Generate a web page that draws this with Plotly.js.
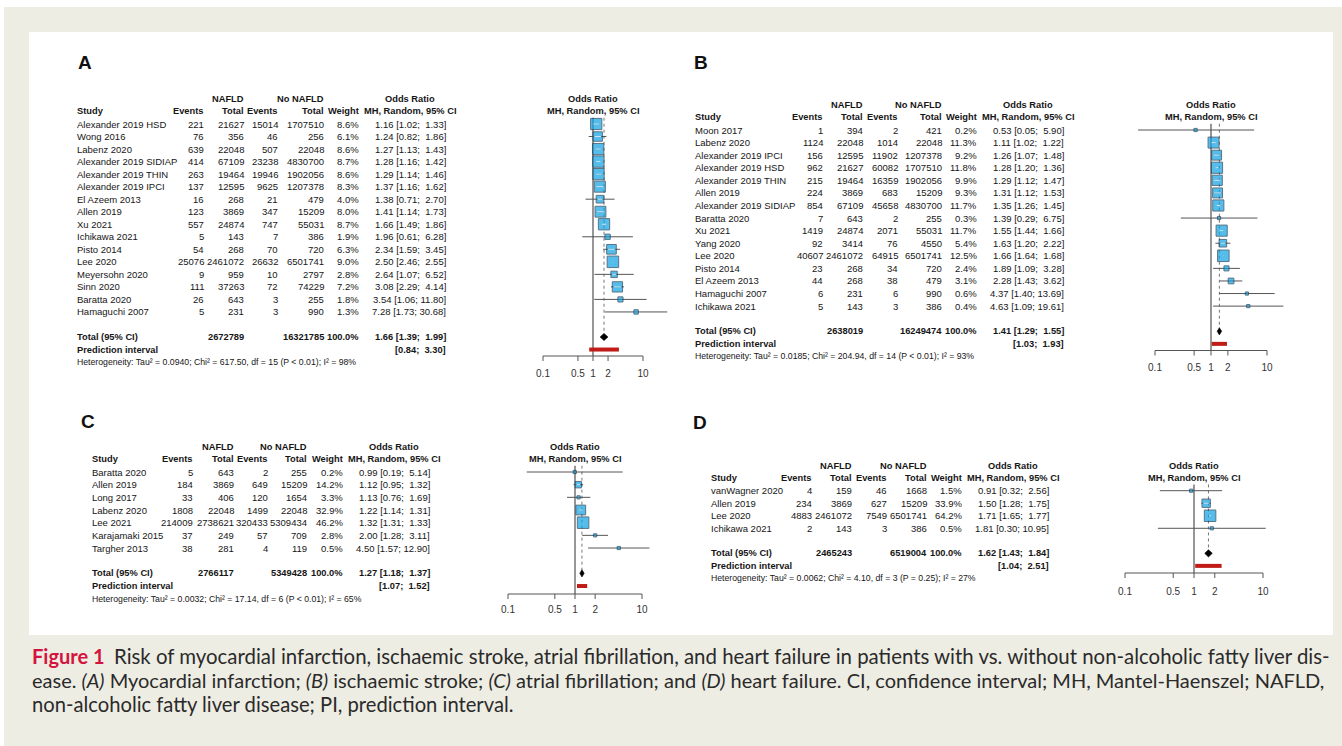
<!DOCTYPE html>
<html><head><meta charset="utf-8">
<script src="https://cdn.plot.ly/plotly-3.0.1.min.js"></script>
<style>html,body{margin:0;padding:0;background:#eeede3;}#chart{width:1342px;height:746px;}</style>
</head><body><div id="chart"></div>
<script>
// ---------------- DATA ----------------
const tickVals = [0.1, 0.5, 1, 2, 10];
const tickText = ['0.1', '0.5', '1', '2', '10'];
const colHeads = ['Events', 'Total', 'Events', 'Total', 'Weight'];
const groupHeads = ['NAFLD', 'No NAFLD'];
const orHead1 = 'Odds Ratio', orHead2 = 'MH, Random, 95% CI';

// Panel A – myocardial infarction
const studiesA = ['Alexander 2019 HSD','Wong 2016','Labenz 2020','Alexander 2019 SIDIAP','Alexander 2019 THIN','Alexander 2019 IPCI','El Azeem 2013','Allen 2019','Xu 2021','Ichikawa 2021','Pisto 2014','Lee 2020','Meyersohn 2020','Sinn 2020','Baratta 2020','Hamaguchi 2007'];
const evA   = [221,76,639,414,263,137,16,123,557,5,54,25076,9,111,26,5];
const totA  = [21627,356,22048,67109,19464,12595,268,3869,24874,143,268,2461072,959,37263,643,231];
const evCA  = [15014,46,507,23238,19946,9625,21,347,747,7,70,26632,10,72,3,3];
const totCA = [1707510,256,22048,4830700,1902056,1207378,479,15209,55031,386,720,6501741,2797,74229,255,990];
const wA    = [8.6,6.1,8.6,8.7,8.6,8.3,4.0,8.0,8.7,1.9,6.3,9.0,2.8,7.2,1.8,1.3];
const orA   = [1.16,1.24,1.27,1.28,1.29,1.37,1.38,1.41,1.66,1.96,2.34,2.50,2.64,3.08,3.54,7.28];
const loA   = [1.02,0.82,1.13,1.16,1.14,1.16,0.71,1.14,1.49,0.61,1.59,2.46,1.07,2.29,1.06,1.73];
const hiA   = [1.33,1.86,1.43,1.42,1.46,1.62,2.70,1.73,1.86,6.28,3.45,2.55,6.52,4.14,11.80,30.68];
const sumA  = [2672789, 16321785, 1.66, 1.39, 1.99];
const piA   = [0.84, 3.30];
const hetA  = ['0.0940', '617.50', 15, '< 0.01', 98];

// Panel B – ischaemic stroke
const studiesB = ['Moon 2017','Labenz 2020','Alexander 2019 IPCI','Alexander 2019 HSD','Alexander 2019 THIN','Allen 2019','Alexander 2019 SIDIAP','Baratta 2020','Xu 2021','Yang 2020','Lee 2020','Pisto 2014','El Azeem 2013','Hamaguchi 2007','Ichikawa 2021'];
const evB   = [1,1124,156,962,215,224,854,7,1419,92,40607,23,44,6,5];
const totB  = [394,22048,12595,21627,19464,3869,67109,643,24874,3414,2461072,268,268,231,143];
const evCB  = [2,1014,11902,60082,16359,683,45658,2,2071,76,64915,34,38,6,3];
const totCB = [421,22048,1207378,1707510,1902056,15209,4830700,255,55031,4550,6501741,720,479,990,386];
const wB    = [0.2,11.3,9.2,11.8,9.9,9.3,11.7,0.3,11.7,5.4,12.5,2.4,3.1,0.6,0.4];
const orB   = [0.53,1.11,1.26,1.28,1.29,1.31,1.35,1.39,1.55,1.63,1.66,1.89,2.28,4.37,4.63];
const loB   = [0.05,1.02,1.07,1.20,1.12,1.12,1.26,0.29,1.44,1.20,1.64,1.09,1.43,1.40,1.09];
const hiB   = [5.90,1.22,1.48,1.36,1.47,1.53,1.45,6.75,1.66,2.22,1.68,3.28,3.62,13.69,19.61];
const sumB  = [2638019, 16249474, 1.41, 1.29, 1.55];
const piB   = [1.03, 1.93];
const hetB  = ['0.0185', '204.94', 14, '< 0.01', 93];

// Panel C – atrial fibrillation
const studiesC = ['Baratta 2020','Allen 2019','Long 2017','Labenz 2020','Lee 2021','Karajamaki 2015','Targher 2013'];
const evC   = [5,184,33,1808,214009,37,38];
const totC  = [643,3869,406,22048,2738621,249,281];
const evCC  = [2,649,120,1499,320433,57,4];
const totCC = [255,15209,1654,22048,5309434,709,119];
const wC    = [0.2,14.2,3.3,32.9,46.2,2.8,0.5];
const orC   = [0.99,1.12,1.13,1.22,1.32,2.00,4.50];
const loC   = [0.19,0.95,0.76,1.14,1.31,1.28,1.57];
const hiC   = [5.14,1.32,1.69,1.31,1.33,3.11,12.90];
const sumC  = [2766117, 5349428, 1.27, 1.18, 1.37];
const piC   = [1.07, 1.52];
const hetC  = ['0.0032', '17.14', 6, '< 0.01', 65];

// Panel D – heart failure
const studiesD = ['vanWagner 2020','Allen 2019','Lee 2020','Ichikawa 2021'];
const evD   = [4,234,4883,2];
const totD  = [159,3869,2461072,143];
const evCD  = [46,627,7549,3];
const totCD = [1668,15209,6501741,386];
const wD    = [1.5,33.9,64.2,0.5];
const orD   = [0.91,1.50,1.71,1.81];
const loD   = [0.32,1.28,1.65,0.30];
const hiD   = [2.56,1.75,1.77,10.95];
const sumD  = [2465243, 6519004, 1.62, 1.43, 1.84];
const piD   = [1.04, 2.51];
const hetD  = ['0.0062', '4.10', 3, '= 0.25', 27];

const captionLines = [
  'Risk of myocardial infarction, ischaemic stroke, atrial fibrillation, and heart failure in patients with vs. without non-alcoholic fatty liver dis-',
  'ease. <i>(A)</i> Myocardial infarction; <i>(B)</i> ischaemic stroke; <i>(C)</i> atrial fibrillation; and <i>(D)</i> heart failure. CI, confidence interval; MH, Mantel-Haenszel; NAFLD,',
  'non-alcoholic fatty liver disease; PI, prediction interval.'
];

// ---------------- LAYOUT / STYLE ----------------
const W = 1342, H = 746;
const FONT = 'Liberation Sans, Arial, Helvetica, sans-serif';
const TXT = '#161616';
const FS = 9.5, FSB = 9.3, FSH = 8.7;
const px = x => x / W;
const py = y => 1 - y / H;

const panels = [
  {label: 'A', lx: 77, ly: 62, studies: studiesA, ev: evA, tot: totA, evc: evCA, totc: totCA, w: wA, or: orA, lo: loA, hi: hiA, sum: sumA, pi: piA, het: hetA,
   g: {studyX: 76, cols: [205,245,279,325,360], orC: 410, fx1: 593, k: 50, y0: 124, d: 12.53, xdom: [505, 690], ydom: [40, 400], axisY: 356, labY: 374}},
  {label: 'B', lx: 693, ly: 62, studies: studiesB, ev: evB, tot: totB, evc: evCB, totc: totCB, w: wB, or: orB, lo: loB, hi: hiB, sum: sumB, pi: piB, het: hetB,
   g: {studyX: 694, cols: [824,864,899,943,978], orC: 1028, fx1: 1211, k: 56, y0: 130, d: 12.58, xdom: [1115, 1310], ydom: [40, 400], axisY: 350.5, labY: 368}},
  {label: 'C', lx: 80, ly: 421, studies: studiesC, ev: evC, tot: totC, evc: evCC, totc: totCC, w: wC, or: orC, lo: loC, hi: hiC, sum: sumC, pi: piC, het: hetC,
   g: {studyX: 91, cols: [194,235,269,308,344], orC: 394, fx1: 575, k: 67, y0: 472, d: 12.67, xdom: [478, 672], ydom: [405, 630], axisY: 594, labY: 610}},
  {label: 'D', lx: 692, ly: 422, studies: studiesD, ev: evD, tot: totD, evc: evCD, totc: totCD, w: wD, or: orD, lo: loD, hi: hiD, sum: sumD, pi: piD, het: hetD,
   g: {studyX: 710, cols: [813,853,888,928,963], orC: 1013, fx1: 1194, k: 69, y0: 490.7, d: 12.53, xdom: [1100, 1310], ydom: [405, 630], axisY: 573, labY: 592.5}}
];

const traces = [];
const annotations = [];
const layout = {
  width: W, height: H, margin: {l: 0, r: 0, t: 0, b: 0}, autosize: false,
  paper_bgcolor: '#eeede3', plot_bgcolor: 'rgba(0,0,0,0)', showlegend: false,
  hovermode: false,
  shapes: [
    {type: 'rect', xref: 'paper', yref: 'paper', x0: 0, x1: 1, y0: py(0), y1: py(7), fillcolor: '#ffffff', line: {width: 0}, layer: 'below'},
    {type: 'rect', xref: 'paper', yref: 'paper', x0: 0, x1: px(4), y0: 0, y1: 1, fillcolor: '#ffffff', line: {width: 0}, layer: 'below'},
    {type: 'rect', xref: 'paper', yref: 'paper', x0: px(29), x1: px(1333), y0: py(635), y1: py(32), fillcolor: '#ffffff', line: {width: 0}, layer: 'below'}
  ],
  annotations: annotations
};

function ann(text, x, y, yref, xanchor, size) {
  return {text: text, x: px(x), xref: 'paper', y: y, yref: yref, xanchor: xanchor, yanchor: 'middle',
    showarrow: false, borderpad: 0, font: {family: FONT, size: size || FS, color: TXT}};
}
const f2 = v => v.toFixed(2);
function ciTxt(o, l, h) {
  const hs = f2(h);
  return f2(o) + ' [' + f2(l) + ';' + (hs.length < 5 ? '\u00a0\u00a0' : '\u00a0') + hs + ']';
}
function piTxt(l, h) {
  const hs = f2(h);
  return '[' + f2(l) + ';' + (hs.length < 5 ? '\u00a0\u00a0' : '\u00a0') + hs + ']';
}

panels.forEach((P, i) => {
  const n = i + 1;
  const xa = n === 1 ? 'x' : 'x' + n, ya = n === 1 ? 'y' : 'y' + n;
  const g = P.g;
  layout[n === 1 ? 'xaxis' : 'xaxis' + n] = {
    type: 'log', domain: [px(g.xdom[0]), px(g.xdom[1])],
    range: [(g.xdom[0] - g.fx1) / g.k, (g.xdom[1] - g.fx1) / g.k],
    visible: false, anchor: ya, fixedrange: true
  };
  layout[n === 1 ? 'yaxis' : 'yaxis' + n] = {
    domain: [py(g.ydom[1]), py(g.ydom[0])],
    range: [(g.ydom[1] - g.y0) / g.d, (g.ydom[0] - g.y0) / g.d],
    visible: false, anchor: xa, fixedrange: true
  };
  const ns = P.studies.length;
  const totalRow = ns + 1, predRow = ns + 2, hetRow = ns + 3;
  const axisRow = (g.axisY - g.y0) / g.d, labRow = (g.labY - g.y0) / g.d;
  const valRight = g.orC + 37;

  annotations.push({text: '<b>' + P.label + '</b>', x: px(P.lx), y: py(P.ly), xref: 'paper', yref: 'paper',
    xanchor: 'left', yanchor: 'middle', showarrow: false, borderpad: 0, font: {family: FONT, size: 19, color: '#111'}});

  annotations.push(ann('<b>' + groupHeads[0] + '</b>', g.cols[1], -2, ya, 'right', FSB));
  annotations.push(ann('<b>' + groupHeads[1] + '</b>', g.cols[3], -2, ya, 'right', FSB));
  annotations.push(ann('<b>' + orHead1 + '</b>', g.orC, -2, ya, 'center', FSB));
  annotations.push(ann('<b>' + orHead1 + '</b>', g.fx1, -2, ya, 'center', FSB));
  annotations.push(ann('<b>Study</b>', g.studyX, -1, ya, 'left', FSB));
  colHeads.forEach((h, j) => annotations.push(ann('<b>' + h + '</b>', g.cols[j], -1, ya, 'right', FSB)));
  annotations.push(ann('<b>' + orHead2 + '</b>', g.orC, -1, ya, 'center', FSB));
  annotations.push(ann('<b>' + orHead2 + '</b>', g.fx1, -1, ya, 'center', FSB));

  for (let r = 0; r < ns; r++) {
    annotations.push(ann(P.studies[r], g.studyX, r, ya, 'left'));
    const vals = [P.ev[r], P.tot[r], P.evc[r], P.totc[r]];
    vals.forEach((v, j) => annotations.push(ann(String(v), g.cols[j], r, ya, 'right')));
    annotations.push(ann(P.w[r].toFixed(1) + '%', g.cols[4], r, ya, 'right'));
    annotations.push(ann(ciTxt(P.or[r], P.lo[r], P.hi[r]), valRight, r, ya, 'right'));
  }
  annotations.push(ann('<b>Total (95% CI)</b>', g.studyX, totalRow, ya, 'left', FSB));
  annotations.push(ann('<b>' + P.sum[0] + '</b>', g.cols[1], totalRow, ya, 'right', FSB));
  annotations.push(ann('<b>' + P.sum[1] + '</b>', g.cols[3], totalRow, ya, 'right', FSB));
  annotations.push(ann('<b>100.0%</b>', g.cols[4], totalRow, ya, 'right', FSB));
  annotations.push(ann('<b>' + ciTxt(P.sum[2], P.sum[3], P.sum[4]) + '</b>', valRight, totalRow, ya, 'right', FSB));
  annotations.push(ann('<b>Prediction interval</b>', g.studyX, predRow, ya, 'left', FSB));
  annotations.push(ann('<b>' + piTxt(P.pi[0], P.pi[1]) + '</b>', valRight, predRow, ya, 'right', FSB));
  const h = P.het;
  annotations.push(ann('Heterogeneity: Tau\u00b2 = ' + h[0] + '; Chi\u00b2 = ' + h[1] + ', df = ' + h[2] +
    ' (P ' + h[3] + '); I\u00b2 = ' + h[4] + '%', g.studyX, hetRow, ya, 'left', FSH));

  // ---- forest marks ----
  const base = {xaxis: xa, yaxis: ya, hoverinfo: 'skip', showlegend: false};
  traces.push(Object.assign({type: 'scatter', mode: 'lines', x: [1, 1], y: [-0.5, axisRow],
    line: {color: '#6a6a6a', width: 1.4}}, base));
  traces.push(Object.assign({type: 'scatter', mode: 'lines', x: [P.sum[2], P.sum[2]], y: [-0.5, totalRow - 0.25],
    line: {color: '#777777', width: 1, dash: 'dot'}}, base));
  const cx = [], cy = [];
  for (let r = 0; r < ns; r++) { cx.push(P.lo[r], P.hi[r], null); cy.push(r, r, null); }
  traces.push(Object.assign({type: 'scatter', mode: 'lines', x: cx, y: cy, line: {color: '#555555', width: 1}}, base));
  const wmax = Math.max.apply(null, P.w);
  const sizes = P.w.map(w => Math.max(3.2, 11.5 * Math.sqrt(w / wmax)));
  traces.push(Object.assign({type: 'scatter', mode: 'markers', x: P.or, y: P.studies.map((s, r) => r),
    marker: {symbol: 'square', size: sizes, color: '#0ea2e4', line: {color: '#163a52', width: 1}}}, base));
  const wx = [], wy = [];
  for (let r = 0; r < ns; r++) {
    if (sizes[r] < 6) continue;
    const hs = (sizes[r] / 2 - 1.5) / g.k;
    wx.push(Math.max(P.lo[r], P.or[r] * Math.pow(10, -hs)), Math.min(P.hi[r], P.or[r] * Math.pow(10, hs)), null);
    wy.push(r, r, null);
  }
  traces.push(Object.assign({type: 'scatter', mode: 'lines', x: wx, y: wy, line: {color: '#ffffff', width: 0.8}}, base));
  const dh = 3.6 / g.d;
  traces.push(Object.assign({type: 'scatter', mode: 'lines', fill: 'toself', fillcolor: '#000000',
    x: [P.sum[3], P.sum[2], P.sum[4], P.sum[2], P.sum[3]],
    y: [totalRow, totalRow - dh, totalRow, totalRow + dh, totalRow],
    line: {color: '#000000', width: 0.6}}, base));
  traces.push(Object.assign({type: 'scatter', mode: 'lines', x: [P.pi[0], P.pi[1]], y: [predRow, predRow],
    line: {color: '#c11b17', width: 4}}, base));
  const tl = 5 / g.d;
  const ax = [tickVals[0], tickVals[tickVals.length - 1], null], ay = [axisRow, axisRow, null];
  tickVals.forEach(t => { ax.push(t, t, null); ay.push(axisRow, axisRow + tl, null); });
  traces.push(Object.assign({type: 'scatter', mode: 'lines', x: ax, y: ay, line: {color: '#555555', width: 1}}, base));
  traces.push(Object.assign({type: 'scatter', mode: 'text', x: tickVals, y: tickVals.map(() => labRow),
    text: tickText, textposition: 'middle center', cliponaxis: false,
    textfont: {family: FONT, size: 10, color: '#333333'}}, base));
});

// caption
annotations.push({text: '<b>Figure 1</b>', x: px(31), y: py(656), xref: 'paper', yref: 'paper', xanchor: 'left', yanchor: 'middle',
  showarrow: false, borderpad: 0, font: {family: 'Lato, Open Sans, sans-serif', size: 20, color: '#d3143f'}});
const capX = [113, 31, 31], capY = [656, 680, 704], capSize = [20.4, 20.0, 20.2];
captionLines.forEach((t, i) => annotations.push({text: t, x: px(capX[i]), y: py(capY[i]), xref: 'paper', yref: 'paper',
  xanchor: 'left', yanchor: 'middle', showarrow: false, borderpad: 0,
  font: {family: 'Lato, Open Sans, sans-serif', size: capSize[i], color: '#2a2a2a'}}));

Plotly.newPlot('chart', traces, layout, {staticPlot: true, displayModeBar: false});
</script></body></html>
